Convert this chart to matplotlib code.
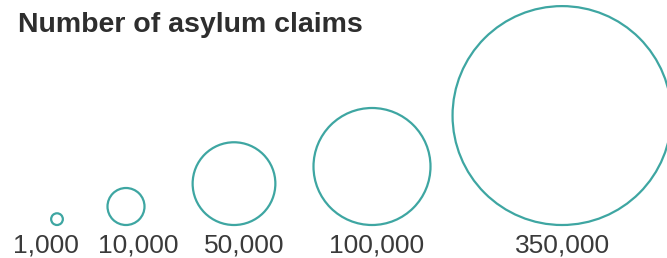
import matplotlib.pyplot as plt
from matplotlib.patches import Circle
import numpy as np

# legend values and labels
values = [1000, 10000, 50000, 100000, 350000]
labels = ['1,000', '10,000', '50,000', '100,000', '350,000']

# layout (pixels)
centers_x = [57, 126, 234, 372, 562]
label_x = [46, 138, 244, 377, 563]
base_y = 225
ref_radius = 58.5  # radius of the 100,000 circle

teal = '#3ea6a2'

fig = plt.figure(figsize=(6.67, 2.58), dpi=100)
ax = fig.add_axes([0, 0, 1, 1])
ax.set_xlim(0, 667)
ax.set_ylim(258, 0)
ax.set_aspect('equal')
ax.axis('off')

for v, cx, lx, lab in zip(values, centers_x, label_x, labels):
    r = ref_radius * np.sqrt(v / 100000)
    ax.add_patch(Circle((cx, base_y - r), r, fill=False, edgecolor=teal, linewidth=1.6))
    ax.text(lx, 253, lab, ha='center', va='baseline', fontsize=19,
            family='Liberation Sans', color='#3a3a3a')

ax.text(18, 32, 'Number of asylum claims', ha='left', va='baseline', fontsize=20.5,
        fontweight='bold', family='Liberation Sans', color='#2e2e2e')

plt.savefig('out.png', dpi=100)
plt.close()
